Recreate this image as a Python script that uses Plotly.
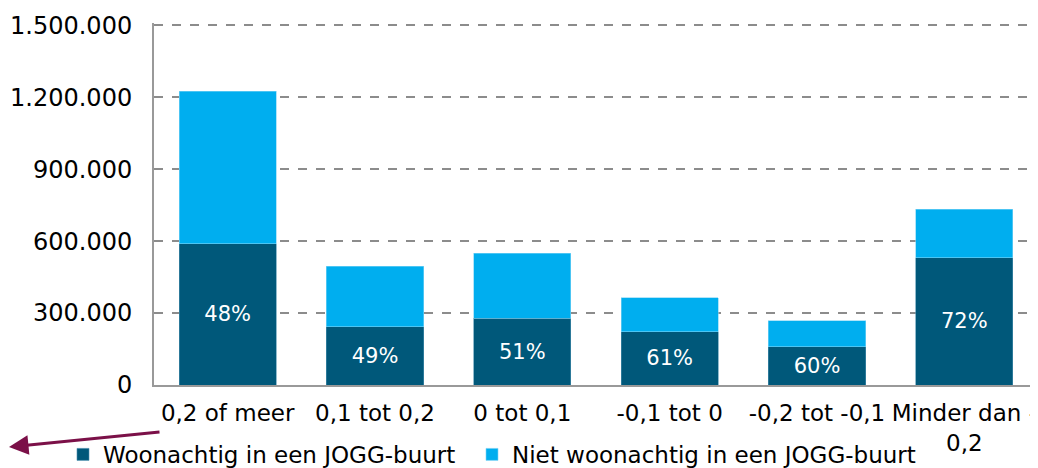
import plotly.graph_objects as go

categories = ["0,2 of meer", "0,1 tot 0,2", "0 tot 0,1", "-0,1 tot 0", "-0,2 tot -0,1", "Minder dan -<br>0,2"]
woonachtig = [590000, 242000, 279000, 222000, 160000, 530000]
totaal = [1225000, 495000, 549000, 365000, 267000, 734000]
niet_woonachtig = [t - w for t, w in zip(totaal, woonachtig)]
pct_labels = ["48%", "49%", "51%", "61%", "60%", "72%"]
y_ticks = [0, 300000, 600000, 900000, 1200000, 1500000]
y_ticktext = ["0", "300.000", "600.000", "900.000", "1.200.000", "1.500.000"]

FONT = "DejaVu Sans"
DARK = "#00587a"
LIGHT = "#00aeef"

# page has an 8px body margin; figure coordinates = page coordinates - 8
W, H = 1030, 460
L, T, B = 146, 14.6, 83
PH = H - T - B  # plot height in px
PW = W - L

fig = go.Figure()
fig.add_trace(go.Bar(
    x=categories, y=woonachtig, name="Woonachtig in een JOGG-buurt",
    marker=dict(color=DARK, line=dict(color="#4a8fae", width=0.6)),
    text=pct_labels, textposition="inside", insidetextanchor="middle",
    textfont=dict(color="white", size=21, family=FONT),
    legend="legend",
))
fig.add_trace(go.Bar(
    x=categories, y=niet_woonachtig, name="Niet woonachtig in een JOGG-buurt",
    marker=dict(color=LIGHT, line=dict(color="#7fd3f5", width=0.6)),
    legend="legend2",
))

leg_common = dict(orientation="h", xanchor="left", y=-48 / PH, yanchor="top",
                  font=dict(size=23, family=FONT), itemwidth=30,
                  bgcolor="rgba(0,0,0,0)")

fig.update_layout(
    barmode="stack",
    bargap=0.34,
    width=W, height=H,
    margin=dict(l=L, r=0, t=T, b=B, autoexpand=False),
    paper_bgcolor="white", plot_bgcolor="white",
    font=dict(family=FONT, size=23, color="black"),
    showlegend=True,
    legend=dict(x=(55 - L) / PW, **leg_common),
    legend2=dict(x=(464 - L) / PW, **leg_common),
    xaxis=dict(showline=True, linecolor="#999999", linewidth=2, showgrid=False,
               ticks="", tickfont=dict(size=23), ticklabelstandoff=6,
               zeroline=False, automargin=False),
    yaxis=dict(range=[0, 1510000], tickvals=y_ticks, ticktext=y_ticktext,
               showline=True, linecolor="#999999", linewidth=2,
               showgrid=True, gridcolor="#8c8c8c", griddash="dash", gridwidth=1.5,
               zeroline=False, ticks="", tickfont=dict(size=24),
               ticklabelstandoff=15, automargin=False),
    annotations=[dict(
        xref="paper", yref="paper", x=(-6 - L) / PW, y=-62 / PH,
        axref="pixel", ayref="pixel", ax=159, ay=-15,
        showarrow=True, arrowhead=2, arrowsize=1.3, arrowwidth=3,
        arrowcolor="#7b1048", text="",
    )],
)

fig.write_html("out.html")
